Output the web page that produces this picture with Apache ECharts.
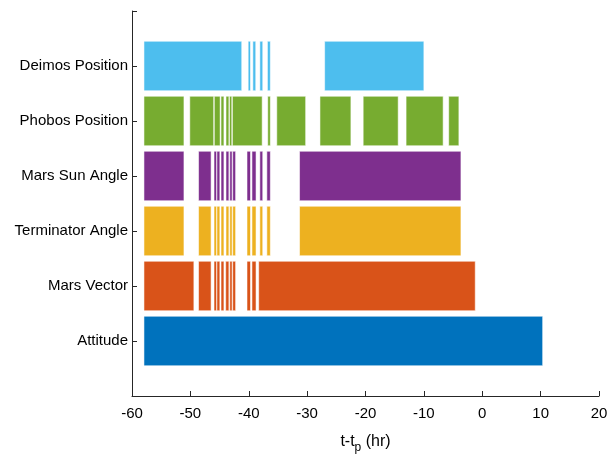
<!DOCTYPE html>
<html>
<head>
<meta charset="utf-8">
<script src="https://cdn.jsdelivr.net/npm/echarts@6/dist/echarts.min.js"></script>
<style>
  html, body { margin: 0; padding: 0; background: #fff; }
  #chart { width: 613px; height: 459px; }
</style>
</head>
<body>
<div id="chart"></div>
<script>
// Row labels, bottom to top (row 1 = Attitude)
const rowNames = ['Attitude', 'Mars Vector', 'Terminator Angle', 'Mars Sun Angle', 'Phobos Position', 'Deimos Position'];
const rowColors = ['#0072BD', '#D95319', '#EDB120', '#7E2F8E', '#77AC30', '#4DBEEE'];

// Availability windows per product, [start, end] in hours relative to t_p
const attitude = [[-57.95, 10.35]];
const marsVector = [
  [-57.95, -49.4], [-48.6, -46.45], [-45.95, -45.5], [-45.45, -44.95], [-44.75, -44.25],
  [-43.95, -43.4], [-43.25, -42.85], [-42.75, -42.25], [-40.3, -39.7], [-39.45, -38.75],
  [-38.3, -1.2]
];
const terminatorAngle = [
  [-57.95, -51.1], [-48.6, -46.45], [-45.95, -45.5], [-45.45, -44.95], [-44.75, -44.25],
  [-43.9, -43.4], [-43.25, -42.85], [-42.75, -42.25], [-40.3, -39.7], [-39.45, -38.75],
  [-38.1, -37.6], [-36.9, -36.3], [-31.3, -3.65]
];
const marsSunAngle = [
  [-57.95, -51.1], [-48.6, -46.45], [-45.95, -45.5], [-45.45, -44.95], [-44.75, -44.25],
  [-43.9, -43.4], [-43.25, -42.85], [-42.75, -42.25], [-40.3, -39.7], [-39.45, -38.75],
  [-38.1, -37.6], [-36.9, -36.3], [-31.3, -3.65]
];
const phobosPosition = [
  [-57.95, -51.1], [-50.1, -46.0], [-45.9, -44.9], [-44.75, -44.25], [-43.9, -43.4],
  [-43.3, -42.9], [-42.8, -37.7], [-36.75, -36.3], [-35.2, -30.25], [-27.8, -22.5],
  [-20.4, -14.4], [-13.05, -6.7], [-5.75, -4.0]
];
const deimosPosition = [
  [-57.95, -41.2], [-40.1, -39.7], [-39.3, -38.8], [-38.1, -37.6], [-36.8, -36.3],
  [-27.0, -10.0]
];

const rows = [attitude, marsVector, terminatorAngle, marsSunAngle, phobosPosition, deimosPosition];
const xTicks = { min: -60, max: 20, step: 10 };
const barHeight = 0.9;

// Flatten into [row, start, end] records for the custom series
const segments = [];
rows.forEach((list, i) => list.forEach(s => segments.push([i + 1, s[0], s[1]])));

const chart = echarts.init(document.getElementById('chart'), null, { renderer: 'canvas' });

const fontFamily = 'Liberation Sans, Arial, Helvetica, sans-serif';
const axisColor = '#262626';

chart.setOption({
  animation: false,
  backgroundColor: '#ffffff',
  grid: { left: 132, right: 14, top: 11, bottom: 58, containLabel: false },
  xAxis: {
    type: 'value',
    min: xTicks.min,
    max: xTicks.max,
    interval: xTicks.step,
    name: 't-t{sub|p} (hr)',
    nameLocation: 'middle',
    nameGap: 34,
    nameTextStyle: {
      color: '#000', fontSize: 16, fontFamily: fontFamily,
      rich: { sub: { fontSize: 12, verticalAlign: 'bottom', padding: [12, 0, 0, 0], color: '#000', fontFamily: fontFamily } }
    },
    axisLine: { show: true, onZero: false, lineStyle: { color: axisColor, width: 1 } },
    axisTick: { show: true, inside: true, length: 5, lineStyle: { color: axisColor } },
    axisLabel: { color: '#000', fontSize: 15, fontFamily: fontFamily, margin: 10 },
    splitLine: { show: false }
  },
  yAxis: {
    type: 'value',
    min: 0,
    max: 7,
    interval: 1,
    axisLine: { show: true, onZero: false, lineStyle: { color: axisColor, width: 1 } },
    axisTick: { show: true, inside: true, length: 5, lineStyle: { color: axisColor } },
    axisLabel: {
      color: '#000', fontSize: 15, fontFamily: fontFamily, margin: 4,
      formatter: v => (v >= 1 && v <= rowNames.length ? rowNames[v - 1] : '')
    },
    splitLine: { show: false }
  },
  series: [{
    type: 'custom',
    data: segments,
    encode: { x: [1, 2], y: 0 },
    clip: true,
    renderItem: function (params, api) {
      const row = api.value(0);
      const start = api.coord([api.value(1), row]);
      const end = api.coord([api.value(2), row]);
      const h = api.size([0, barHeight])[1];
      return {
        type: 'rect',
        shape: { x: start[0], y: start[1] - h / 2, width: end[0] - start[0], height: h },
        style: {
          fill: rowColors[row - 1],
          stroke: 'rgba(255,255,255,0.55)',
          lineWidth: 1
        }
      };
    }
  }]
});
</script>
</body>
</html>
